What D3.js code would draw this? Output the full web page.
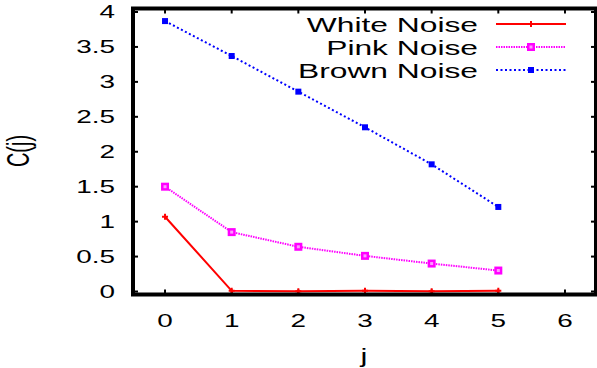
<!DOCTYPE html>
<html>
<head>
<meta charset="utf-8">
<script src="https://cdn.jsdelivr.net/npm/d3@7"></script>
<style>
  body { margin: 0; background: #fff; }
  text { font-family: "Liberation Sans", Arial, sans-serif; fill: #000; }
</style>
</head>
<body>
<script>
// data
const jValues = [0, 1, 2, 3, 4, 5];
const whiteNoise = [1.07, 0.01, 0.005, 0.01, 0.005, 0.01];
const pinkNoise = [1.50, 0.85, 0.64, 0.51, 0.40, 0.30];
const brownNoise = [3.87, 3.37, 2.86, 2.35, 1.82, 1.21];
const xTicks = [0, 1, 2, 3, 4, 5, 6];
const yTicks = [0, 0.5, 1, 1.5, 2, 2.5, 3, 3.5, 4];
const seriesNames = ["White Noise", "Pink Noise", "Brown Noise"];

const w = 597, h = 368;
const fLeft = 133, fRight = 596, fTop = 8.5, fBottom = 294.5;
const stretch = 1.55; // text in the original is wider than tall

const svg = d3.select("body").append("svg")
  .attr("width", w).attr("height", h);

const xScale = d3.scaleLinear().domain([-0.5, 6.5]).range([131.7, 598.3]);
const yScale = d3.scaleLinear().domain([-0.05, 4.05]).range([295, 8.5]);

const series = [
  { name: seriesNames[0], values: whiteNoise, color: "#ff0000", dash: null, marker: "plus" },
  { name: seriesNames[1], values: pinkNoise, color: "#ff00ff", dash: "1.5,1", marker: "square" },
  { name: seriesNames[2], values: brownNoise, color: "#0000ff", dash: "2,2.5", marker: "fill" }
];

function label(x, y, txt, size, anchor, rot) {
  svg.append("text")
    .attr("transform", `translate(${x},${y}) scale(${stretch},1)` + (rot ? ` rotate(${rot})` : ""))
    .attr("text-anchor", anchor)
    .attr("font-size", size)
    .text(txt);
}

// ticks (inward, mirrored)
const tl = 5;
const g = svg.append("g").attr("stroke", "#000").attr("stroke-width", 2);
xTicks.forEach(t => {
  g.append("line").attr("x1", xScale(t)).attr("x2", xScale(t)).attr("y1", fBottom).attr("y2", fBottom - tl);
  g.append("line").attr("x1", xScale(t)).attr("x2", xScale(t)).attr("y1", fTop).attr("y2", fTop + tl);
});
yTicks.forEach(t => {
  g.append("line").attr("x1", fLeft).attr("x2", fLeft + tl).attr("y1", yScale(t)).attr("y2", yScale(t));
  g.append("line").attr("x1", fRight).attr("x2", fRight - tl).attr("y1", yScale(t)).attr("y2", yScale(t));
});

// tick labels
xTicks.forEach(t => label(xScale(t), 326.5, t, 18, "middle"));
yTicks.forEach(t => label(115, yScale(t) + 6.5, t, 18, "end"));

// axis titles
label(364, 363, "j", 20, "middle");
label(29, 151, "C(j)", 20, "middle", -90);

// lines
const line = d3.line().x((d, i) => xScale(jValues[i])).y(d => yScale(d));

function marker(sel, m, color, x, y) {
  if (m === "plus") {
    sel.append("path").attr("d", `M${x - 3},${y}H${x + 3}M${x},${y - 3}V${y + 3}`)
      .attr("stroke", color).attr("stroke-width", 2);
  } else if (m === "square") {
    sel.append("rect").attr("x", x - 4).attr("y", y - 4).attr("width", 8).attr("height", 8)
      .attr("fill", color);
    sel.append("rect").attr("x", x - 1.5).attr("y", y - 1.5).attr("width", 3).attr("height", 3)
      .attr("fill", "#fff").attr("opacity", 0.6);
  } else {
    sel.append("rect").attr("x", x - 3).attr("y", y - 3).attr("width", 6).attr("height", 6)
      .attr("fill", color);
  }
}

series.forEach(s => {
  svg.append("path").datum(s.values)
    .attr("d", line)
    .attr("fill", "none")
    .attr("stroke", s.color)
    .attr("stroke-width", 2)
    .attr("stroke-dasharray", s.dash);
  s.values.forEach((v, i) => marker(svg, s.marker, s.color, xScale(jValues[i]), yScale(v)));
});

// legend
series.forEach((s, i) => {
  const ly = 24 + i * 23;
  label(478, ly + 7.5, s.name, 20.5, "end");
  svg.append("line").attr("x1", 496).attr("x2", 566).attr("y1", ly).attr("y2", ly)
    .attr("stroke", s.color).attr("stroke-width", 2).attr("stroke-dasharray", s.dash);
  marker(svg, s.marker, s.color, 531, ly);
});

// frame
svg.append("rect")
  .attr("x", fLeft).attr("y", fTop)
  .attr("width", fRight - fLeft).attr("height", fBottom - fTop)
  .attr("fill", "none").attr("stroke", "#000").attr("stroke-width", 4);
</script>
</body>
</html>
